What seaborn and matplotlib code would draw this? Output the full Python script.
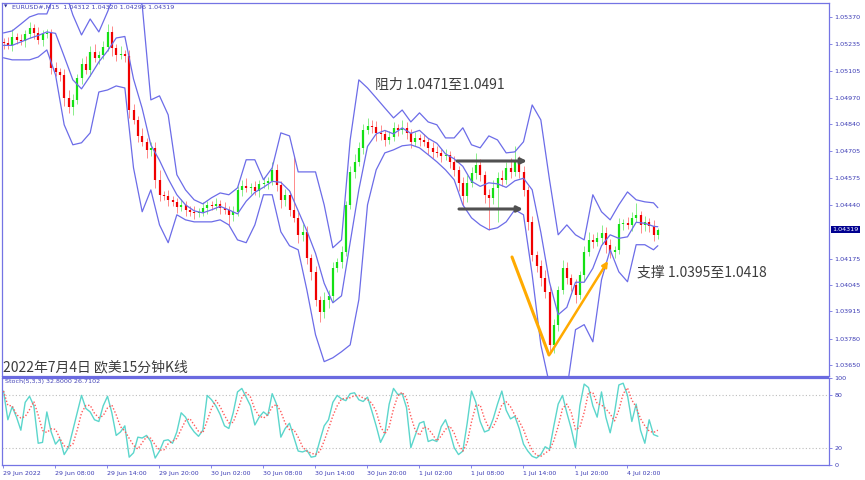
import numpy as np
import pandas as pd
import matplotlib
matplotlib.use("Agg")
import matplotlib.pyplot as plt
from matplotlib.patches import Rectangle
import seaborn as sns

# ---------------- data (30-minute bars, 29 Jun 02:00 -> 4 Jul 05:30) ----------------
symbol_header = "EURUSD#,M15  1.04312 1.04320 1.04296 1.04319"
first_open = 1.05245
close = [
    1.05241, 1.05232, 1.05271, 1.05256, 1.05251, 1.05286, 1.05316, 1.05291, 1.05256, 1.05286,
    1.05291, 1.05118, 1.05098, 1.05083, 1.04969, 1.04925, 1.04960, 1.05068, 1.05137, 1.05108,
    1.05197, 1.05167, 1.05182, 1.05222, 1.05296, 1.05217, 1.05182, 1.05187, 1.05177, 1.04910,
    1.04861, 1.04782, 1.04752, 1.04713, 1.04723, 1.04564, 1.04490, 1.04485, 1.04465, 1.04455,
    1.04431, 1.04441, 1.04416, 1.04406, 1.04401, 1.04406, 1.04426, 1.04441, 1.04436, 1.04446,
    1.04426, 1.04416, 1.04391, 1.04406, 1.04515, 1.04535, 1.04525, 1.04530, 1.04510, 1.04545,
    1.04549, 1.04559, 1.04614, 1.04540, 1.04465, 1.04490, 1.04416, 1.04377, 1.04293, 1.04308,
    1.04179, 1.04109, 1.03971, 1.03912, 1.03971, 1.03991, 1.04129, 1.04159, 1.04208, 1.04441,
    1.04604, 1.04653, 1.04723, 1.04811, 1.04831, 1.04826, 1.04796, 1.04791, 1.04762, 1.04777,
    1.04821, 1.04811, 1.04821, 1.04796, 1.04752, 1.04772, 1.04762, 1.04752, 1.04723, 1.04703,
    1.04698, 1.04683, 1.04688, 1.04653, 1.04614, 1.04549, 1.04485, 1.04549, 1.04599, 1.04639,
    1.04589, 1.04490, 1.04475, 1.04525, 1.04574, 1.04564, 1.04624, 1.04604, 1.04653, 1.04604,
    1.04515, 1.04357, 1.04194, 1.04139, 1.04080, 1.04011, 1.03749, 1.03848, 1.04020, 1.04129,
    1.04080, 1.04045, 1.03996, 1.04095, 1.04208, 1.04268, 1.04258, 1.04278, 1.04303, 1.04243,
    1.04208, 1.04218, 1.04347, 1.04352, 1.04342, 1.04377, 1.04391, 1.04342, 1.04357, 1.04337,
    1.04293, 1.04319,
]
# wick lengths above / below the body, in pips
up_wick = [
    2, 3, 4, 2, 3, 2, 3, 2, 3, 2,
    2, 2, 3, 2, 3, 4, 3, 2, 3, 4,
    3, 4, 2, 3, 4, 3, 2, 4, 2, 3,
    3, 2, 4, 2, 3, 3, 5, 2, 3, 2,
    2, 3, 2, 2, 3, 2, 3, 2, 2, 3,
    2, 3, 2, 3, 2, 3, 4, 2, 3, 2,
    3, 2, 4, 3, 2, 3, 2, 26, 3, 4,
    3, 2, 3, 2, 4, 3, 3, 2, 3, 2,
    3, 4, 3, 3, 4, 3, 3, 4, 2, 3,
    3, 2, 4, 3, 2, 3, 2, 3, 2, 3,
    3, 2, 3, 2, 3, 2, 3, 4, 3, 6,
    3, 2, 3, 4, 3, 4, 3, 5, 8, 3,
    3, 2, 3, 2, 3, 4, 3, 3, 2, 4,
    3, 2, 3, 2, 3, 4, 3, 3, 4, 3,
    3, 2, 3, 2, 3, 3, 6, 2, 3, 2,
    3, 1,
]
dn_wick = [
    3, 2, 3, 2, 2, 3, 2, 3, 2, 3,
    2, 3, 2, 3, 4, 3, 4, 2, 3, 2,
    3, 2, 3, 2, 2, 4, 3, 2, 3, 4,
    2, 3, 2, 4, 3, 4, 3, 2, 3, 2,
    3, 2, 3, 2, 3, 2, 2, 3, 2, 2,
    3, 2, 5, 3, 2, 3, 2, 3, 2, 3,
    2, 3, 2, 3, 4, 3, 3, 2, 4, 3,
    3, 4, 3, 5, 3, 4, 3, 2, 3, 2,
    2, 3, 2, 3, 2, 3, 4, 3, 3, 2,
    2, 3, 2, 3, 3, 2, 3, 2, 3, 3,
    2, 3, 2, 3, 3, 4, 5, 3, 2, 3,
    3, 4, 16, 3, 17, 3, 2, 3, 2, 3,
    3, 4, 3, 3, 4, 3, 3, 4, 3, 2,
    3, 3, 4, 2, 3, 2, 3, 2, 3, 4,
    3, 3, 2, 3, 2, 3, 2, 4, 3, 3,
    3, 2,
]
# Bollinger band edges read every hour (every 2nd bar, plus the last bar)
band_bars = list(range(0, 151, 2)) + [151]
bb_upper = [
    1.05291, 1.05301, 1.05335, 1.05370, 1.05385, 1.05385, 1.05494, 1.05513, 1.05380, 1.05281,
    1.05360, 1.05296, 1.05395, 1.05503, 1.05528, 1.05503, 1.05429, 1.04960, 1.04980, 1.04886,
    1.04590, 1.04515, 1.04466, 1.04446, 1.04476, 1.04500, 1.04491, 1.04525, 1.04664, 1.04664,
    1.04565, 1.04624, 1.04797, 1.04782, 1.04604, 1.04604, 1.04604, 1.04441, 1.04229, 1.04268,
    1.04762, 1.05059, 1.05019, 1.04970, 1.04920, 1.04871, 1.04910, 1.04851, 1.04896, 1.04851,
    1.04837, 1.04772, 1.04772, 1.04822, 1.04738, 1.04723, 1.04782, 1.04762, 1.04698, 1.04703,
    1.04753, 1.04935, 1.04861, 1.04565, 1.04293, 1.04342, 1.04293, 1.04268, 1.04491, 1.04407,
    1.04367, 1.04441, 1.04505, 1.04466, 1.04456, 1.04451, 1.04427,
]
bb_lower = [
    1.05168, 1.05158, 1.05158, 1.05158, 1.05172, 1.05207, 1.05084, 1.04837, 1.04738, 1.04748,
    1.04797, 1.04999, 1.05009, 1.05029, 1.05019, 1.04624, 1.04407, 1.04515, 1.04342, 1.04254,
    1.04392, 1.04367, 1.04357, 1.04357, 1.04357, 1.04367, 1.04342, 1.04268, 1.04254, 1.04342,
    1.04491, 1.04491, 1.04308, 1.04239, 1.04219, 1.04021, 1.03799, 1.03666, 1.03685, 1.03715,
    1.03749, 1.03972, 1.04441, 1.04614, 1.04698, 1.04713, 1.04733, 1.04738, 1.04723, 1.04689,
    1.04654, 1.04614, 1.04565, 1.04441, 1.04377, 1.04342, 1.04318, 1.04328, 1.04357, 1.04417,
    1.04392, 1.04096, 1.03749, 1.03552, 1.03503, 1.03527, 1.03824, 1.03849, 1.03764, 1.04071,
    1.04219, 1.04110, 1.04061, 1.04244, 1.04244, 1.04219, 1.04239,
]
stoch_k = [
    85, 52, 67, 55, 40, 72, 79, 68, 25, 26,
    61, 38, 24, 30, 12, 20, 40, 60, 80, 65,
    61, 52, 50, 68, 79, 60, 34, 38, 45, 9,
    14, 32, 31, 34, 27, 8, 16, 28, 29, 25,
    38, 60, 55, 45, 38, 33, 40, 80, 75, 68,
    58, 45, 42, 60, 84, 88, 78, 68, 46, 55,
    61, 57, 82, 70, 32, 42, 48, 32, 16, 15,
    17, 9, 10, 28, 45, 52, 72, 80, 76, 74,
    82, 83, 75, 73, 78, 62, 45, 26, 36, 70,
    88, 81, 82, 66, 20, 34, 48, 50, 27, 29,
    27, 44, 52, 38, 20, 12, 16, 48, 85, 72,
    50, 38, 40, 53, 70, 85, 63, 53, 56, 42,
    24, 16, 10, 8, 12, 21, 18, 45, 70, 80,
    60, 42, 20, 68, 93, 89, 68, 55, 84, 55,
    37, 60, 92, 94, 80, 50, 70, 40, 25, 52,
    35, 33,
]
stoch_label = "Stoch(5,3,3) 32.8000 26.7102"
time_tick_bars = [0, 12, 24, 36, 48, 60, 72, 84, 96, 108, 120, 132, 144]
time_tick_labels = ["29 Jun 2022", "29 Jun 08:00", "29 Jun 14:00", "29 Jun 20:00",
                    "30 Jun 02:00", "30 Jun 08:00", "30 Jun 14:00", "30 Jun 20:00",
                    "1 Jul 02:00", "1 Jul 08:00", "1 Jul 14:00", "1 Jul 20:00", "4 Jul 02:00"]
price_ticks = [1.05370, 1.05235, 1.05105, 1.04970, 1.04840, 1.04705, 1.04575, 1.04440,
               1.04175, 1.04045, 1.03915, 1.03780, 1.03650]
stoch_ticks = [0, 20, 80, 100]
last_price = 1.04319
resistance_text = "阻力 1.0471至1.0491"
support_text = "支撑 1.0395至1.0418"
title_text = "2022年7月4日 欧美15分钟K线"

# ---------------- frames ----------------
df = pd.DataFrame({"bar": np.arange(len(close)), "close": close})
df["open"] = [first_open] + close[:-1]
df["high"] = df[["open", "close"]].max(axis=1) + np.array(up_wick) * 1e-4
df["low"] = df[["open", "close"]].min(axis=1) - np.array(dn_wick) * 1e-4
df["k"] = stoch_k
df["d"] = df["k"].rolling(3, min_periods=1).mean()

bands = pd.DataFrame({"bar": band_bars, "upper": bb_upper, "lower": bb_lower})
bands["mid"] = (bands["upper"] + bands["lower"]) / 2

# ---------------- figure ----------------
sns.set_theme(style="white")
plt.rcParams["font.family"] = ["DejaVu Sans"]
CJK = ["Noto Sans CJK SC", "DejaVu Sans"]

W, H = 865, 480
fig = plt.figure(figsize=(W / 100, H / 100), dpi=100)
fig.patch.set_facecolor("white")


def fx(px):
    return px / W


def fy(py):
    return 1 - py / H


ax = fig.add_axes([fx(2), fy(376), (829 - 2) / W, (376 - 3) / H])
ax2 = fig.add_axes([fx(2), fy(465), (829 - 2) / W, (465 - 378) / H])

frame_c = "#7474e4"
band_c = "#6c6ce8"
lab_c = "#3a3ab4"

# candles
bull = df["close"] >= df["open"]
for sel, body_c, wick_c in [(bull, "#14e014", "#8aee8a"), (~bull, "#f00000", "#ff8a8a")]:
    d = df[sel]
    ax.vlines(d["bar"], d["low"], d["high"], color=wick_c, lw=0.7, zorder=2)
    lo = d[["open", "close"]].min(axis=1)
    hi = np.maximum(d[["open", "close"]].max(axis=1), lo + 0.00003)
    ax.vlines(d["bar"], lo, hi, color=body_c, lw=1.6, zorder=3)

# bollinger bands
for col in ["upper", "mid", "lower"]:
    sns.lineplot(data=bands, x="bar", y=col, ax=ax, color=band_c, lw=0.9, zorder=4)

ax.set_xlim(-0.35, 190.5)
ax.set_ylim(1.03595, 1.05439)
ax.set_xticks([])
ax.set_xlabel("")
ax.set_ylabel("")
ax.yaxis.tick_right()
ax.set_yticks(price_ticks)
ax.set_yticklabels([f"{p:.5f}" for p in price_ticks])
ax.tick_params(axis="y", labelsize=4.6, labelcolor=lab_c, color=frame_c, length=2,
               width=0.6, pad=2, right=True, left=False)

# price tag
ax.annotate(f"{last_price:.5f}", xy=(1.0, last_price), xycoords=("axes fraction", "data"),
            xytext=(2.5, 0), textcoords="offset points", va="center", ha="left",
            fontsize=4.6, color="white",
            bbox=dict(boxstyle="square,pad=0.18", fc="#000090", ec="none"))

# stochastic
sns.lineplot(data=df, x="bar", y="k", ax=ax2, color="#5cd6cc", lw=1.0, zorder=3)
sns.lineplot(data=df, x="bar", y="d", ax=ax2, color="#ff5a5a", lw=1.0,
             linestyle=(0, (1, 1.4)), zorder=4)
for lvl in [20, 80]:
    ax2.axhline(lvl, color="#bdbdbd", lw=0.8, ls=(0, (1, 2)), zorder=1)
ax2.set_xlim(-0.35, 190.5)
ax2.set_ylim(0, 100)
ax2.set_xlabel("")
ax2.set_ylabel("")
ax2.yaxis.tick_right()
ax2.set_yticks(stoch_ticks)
ax2.set_yticklabels([str(v) for v in stoch_ticks])
ax2.tick_params(axis="y", labelsize=4.6, labelcolor=lab_c, color=frame_c, length=2,
                width=0.6, pad=2, right=True, left=False)
ax2.set_xticks([b - 0.1 for b in time_tick_bars])
ax2.set_xticklabels(time_tick_labels)
ax2.tick_params(axis="x", labelsize=4.5, labelcolor=lab_c, color=frame_c, length=2.5,
                width=0.6, pad=1.5, bottom=True)
for lbl in ax2.get_xticklabels():
    lbl.set_ha("left")

for a in (ax, ax2):
    a.set_facecolor("white")
    for s in a.spines.values():
        s.set_color(frame_c)
        s.set_linewidth(0.9)
    a.grid(False)

# separator between windows
fig.add_artist(Rectangle((fx(2), fy(378.5)), (829 - 2) / W, 3 / H, transform=fig.transFigure,
                         fc="#6a6ae0", ec="none", zorder=10))

# header texts
fig.text(fx(3.5), fy(7), "▼", fontsize=3.2, color="#30309a", va="center", ha="left")
fig.text(fx(12), fy(7), symbol_header, fontsize=4.6, color="#4444b8", va="center", ha="left")
fig.text(fx(5), fy(382), stoch_label, fontsize=4.6, color="#4444b8", va="center", ha="left")

# annotations
fig.text(fx(375), fy(85), resistance_text, fontsize=10, color="#3c3c3c", va="center",
         ha="left", family=CJK)
fig.text(fx(637), fy(273), support_text, fontsize=10, color="#3c3c3c", va="center",
         ha="left", family=CJK)
fig.text(fx(3), fy(367), title_text, fontsize=10, color="#3c3c3c", va="center",
         ha="left", family=CJK)

arrow_c = "#505050"
ax.annotate("", xy=(527, H - 161), xytext=(457, H - 161), xycoords="figure pixels",
            textcoords="figure pixels",
            arrowprops=dict(arrowstyle="-|>", color=arrow_c, lw=2.2, mutation_scale=8,
                            shrinkA=0, shrinkB=0), zorder=6)
ax.annotate("", xy=(523, H - 209), xytext=(459, H - 209), xycoords="figure pixels",
            textcoords="figure pixels",
            arrowprops=dict(arrowstyle="-|>", color=arrow_c, lw=2.2, mutation_scale=8,
                            shrinkA=0, shrinkB=0), zorder=6)

orange = "#ffaa00"
ax.annotate("", xy=(549, H - 355), xytext=(512, H - 257), xycoords="figure pixels",
            textcoords="figure pixels",
            arrowprops=dict(arrowstyle="-", color=orange, lw=2.2, shrinkA=0, shrinkB=0),
            zorder=6)
ax.annotate("", xy=(608, H - 261), xytext=(550, H - 354), xycoords="figure pixels",
            textcoords="figure pixels",
            arrowprops=dict(arrowstyle="-|>", color=orange, lw=1.8, mutation_scale=8,
                            shrinkA=0, shrinkB=0), zorder=6)

fig.savefig("out.png", dpi=100, facecolor="white")
